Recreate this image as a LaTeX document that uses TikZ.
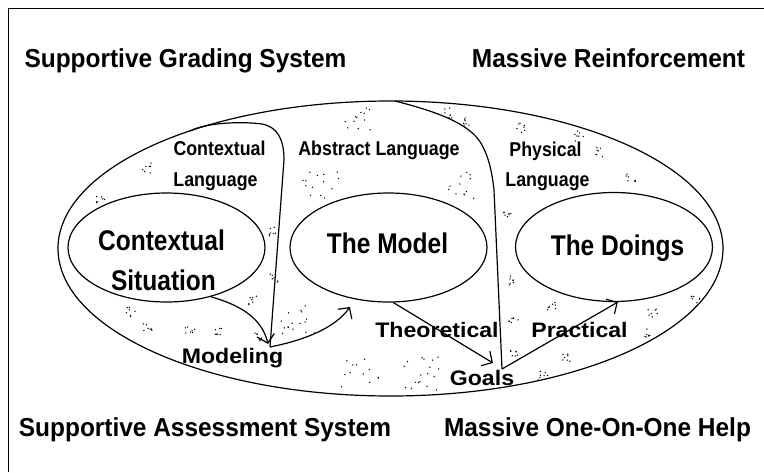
\documentclass[tikz,border=0pt]{standalone}
\usepackage{fontspec}
\setmainfont{Liberation Sans}
\newfontfamily\ftitle{Liberation Sans}[FakeStretch=0.94]
\newfontfamily\fin{Liberation Sans}[FakeStretch=0.86]
\newfontfamily\fup{Liberation Sans}[FakeStretch=0.89]
\newfontfamily\flow{Liberation Sans}[FakeStretch=1.1]
\usetikzlibrary{shapes.geometric,arrows.meta,calc}
\newcommand{\mydots}[5]{\foreach \k in {1,...,#5}{\fill ($(#1,#2)+(rand*#3,rand*#4)$) circle (0.75pt);}}
\tikzset{
  titletext/.style={font=\ftitle\bfseries\fontsize{26}{30}\selectfont, inner sep=0pt, anchor=base},
  bigtext/.style={font=\fin\bfseries\fontsize{28.5}{32}\selectfont, inner sep=0pt, anchor=base},
  uptext/.style={font=\fup\bfseries\fontsize{20}{24}\selectfont, inner sep=0pt, anchor=base},
  lowtext/.style={font=\flow\bfseries\fontsize{21}{24}\selectfont, inner sep=0pt, anchor=base},
  oval/.style={draw, ellipse, line width=1.2pt, inner sep=0pt, minimum width=197pt, minimum height=109pt},
  curveline/.style={line width=1.2pt},
  arrowline/.style={line width=1.2pt, -{Straight Barb[length=8pt,width=17pt,line width=1.2pt]}}
}
\begin{document}
\begin{tikzpicture}[x=1pt,y=-1pt]
\pgfmathsetseed{7}
\useasboundingbox (0,0) rectangle (764,472);
% frame
\draw[line width=1.8pt] (8.5,472) -- (8.5,8.5) -- (764,8.5);

% titles
\node[titletext] (t1) at (185.5,67) {Supportive Grading System};
\node[titletext] (t2) at (608.5,67) {Massive Reinforcement};
\node[titletext] (t3) at (205,436) {Supportive Assessment System};
\node[titletext] (t4) at (597.5,436) {Massive One-On-One Help};

% ellipses
\node[oval, minimum width=665pt, minimum height=295pt] (outer) at (390.5,248.5) {};
\node[oval] (cs) at (166.5,247.5) {};
\node[oval] (model) at (388.5,247.5) {};
\node[oval] (doings) at (614,247) {};

% ellipse texts
\node[bigtext] (cs1) at (161.5,250) {Contextual};
\node[bigtext] (cs2) at (163.5,290) {Situation};
\node[bigtext] (mt) at (387.5,253) {The Model};
\node[bigtext] (dt) at (617.5,255) {The Doings};

% labels
\node[uptext] (l1) at (219.5,155) {Contextual};
\node[uptext] (l2) at (215.5,186) {Language};
\node[uptext] (l3) at (379,155) {Abstract Language};
\node[uptext] (l4) at (545.5,156) {Physical};
\node[uptext] (l5) at (547.5,186) {Language};
\node[lowtext] (l6) at (232.5,363) {Modeling};
\node[lowtext] (l7) at (437,337) {Theoretical};
\node[lowtext] (l8) at (579.5,337) {Practical};
\node[lowtext] (l9) at (482,385) {Goals};

% junction coordinates
\coordinate (astart) at (190,131);
\coordinate (bstart) at (395,101);
\coordinate (mj) at (270,347);
\coordinate (min) at (268,344);
\coordinate (modelin) at (350,307);
\coordinate (gin) at (493,363);
\coordinate (gj) at (502,369);

% region boundaries
\draw[curveline] (astart) .. controls (205,123) and (240,121) .. (262,124)
  .. controls (278,127) and (284,140) .. (284,160) -- (mj);
\draw[curveline] (bstart) .. controls (430,110) and (470,122) .. (482,145)
  .. controls (489,158) and (492,172) .. (494,190) -- (gj);

% arrows
\draw[arrowline] (cs.-48) .. controls (240,305) and (262,318) .. (min);
\draw[arrowline] (mj) .. controls (305,340) and (335,328) .. (modelin);
\draw[arrowline] (model.-85) -- (gin);
\draw[arrowline] (gj) -- (doings.-86);

% speckles
\mydots{357}{118}{18}{12}{12}
\mydots{322}{185}{20}{13}{14}
\mydots{462}{185}{14}{15}{12}
\mydots{298}{320}{20}{15}{16}
\mydots{360}{373}{20}{14}{12}
\mydots{420}{372}{20}{18}{18}
\foreach \px/\py in {147/168,101/198,273/232,274/278,253/300,130/312,147/328,190/330,220/330,257/337,
  447/113,467/122,520/128,579/136,600/152,631/178,507/217,510/281,552/305,514/323,514/353,
  567/357,543/376,653/312,647/334,695/300}{
  \mydots{\px}{\py}{5}{5}{7}
}
\end{tikzpicture}
\end{document}
